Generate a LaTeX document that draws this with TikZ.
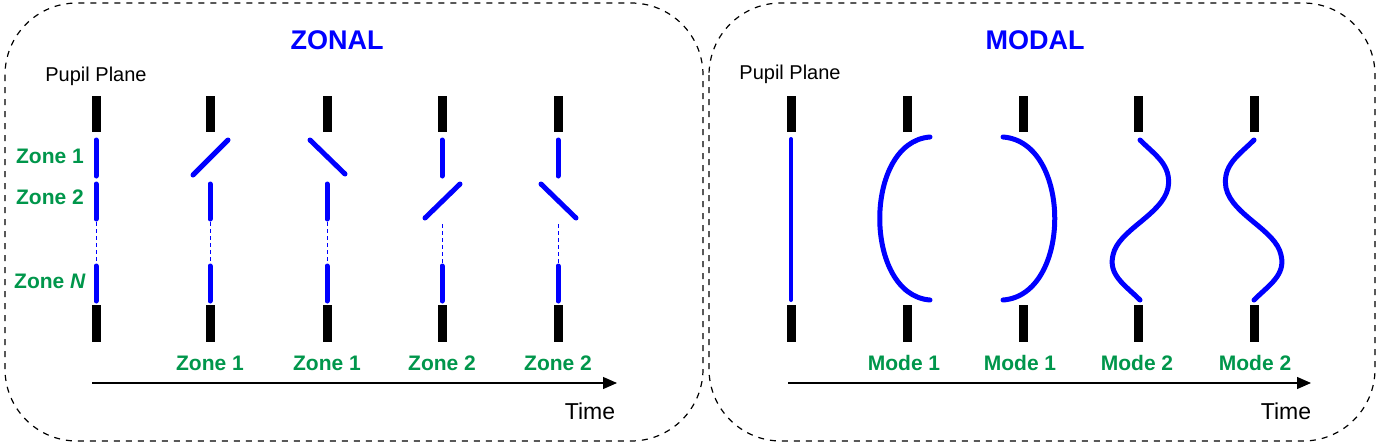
\documentclass[tikz,border=0pt]{standalone}
\usepackage{fontspec}
\setmainfont{Liberation Sans}
\usetikzlibrary{arrows.meta}
\definecolor{zg}{RGB}{0,150,75}
\begin{document}
\begin{tikzpicture}[x=0.5pt,y=-0.5pt,
  panel/.style={draw,dashed,line width=0.6pt,rounded corners=36pt},
  bar/.style={line width=4.5pt},
  mir/.style={blue,line width=2.5pt,line cap=round},
  thin/.style={blue,dashed,line width=0.4pt,dash pattern=on 2pt off 1.5pt},
  zl/.style={text=zg,font=\bfseries\fontsize{10.5}{12}\selectfont},
  title/.style={text=blue,font=\bfseries\fontsize{13.5}{15}\selectfont},
  plain/.style={font=\fontsize{10}{12}\selectfont},
  timearr/.style={-{Triangle[length=7pt,width=6pt]},line width=0.6pt}]
\useasboundingbox (0,0) rectangle (1379,445);
\draw[panel] (5,3) rectangle (703,441);
\draw[panel] (709,3) rectangle (1375,441);
\node[title] (tz) at (337,40) {ZONAL};
\node[title] (tm) at (1035,40) {MODAL};
\node[plain] (pp1) at (96,76) {Pupil Plane};
\node[plain] (pp2) at (790,74) {Pupil Plane};
% left bars
\foreach \x in {96,210,327,442,558}{
  \draw[bar] (\x,96) -- (\x,132);
  \draw[bar] (\x,305) -- (\x,342);
  \draw[mir] (\x,266) -- (\x,301);
}
% col1
\draw[mir] (96,140) -- (96,176);
\draw[mir] (96,184) -- (96,219);
\draw[thin] (96,222) -- (96,263);
\node[zl] (z1) at (50,156) {Zone 1};
\node[zl] (z2) at (50,197) {Zone 2};
\node[zl] (zn) at (50,281) {Zone \textit{N}};
% col2
\draw[mir] (193,175) -- (228,140);
\draw[mir] (210,184) -- (210,219);
\draw[thin] (210,222) -- (210,263);
% col3
\draw[mir] (310,140) -- (345,174);
\draw[mir] (327,184) -- (327,219);
\draw[thin] (327,222) -- (327,263);
% col4
\draw[mir] (442,140) -- (442,176);
\draw[mir] (425,218) -- (460,184);
\draw[thin] (442,224) -- (442,263);
% col5
\draw[mir] (558,140) -- (558,176);
\draw[mir] (541,184) -- (576,218);
\draw[thin] (558,224) -- (558,263);
\foreach \x/\t in {210/Zone 1,327/Zone 1,442/Zone 2,558/Zone 2}
  \node[zl] at (\x,363) {\t};
\coordinate (a1) at (92,383); \coordinate (a2) at (617,383);
\draw[timearr] (a1) -- (a2);
\node[plain,font=\fontsize{11.5}{13}\selectfont] (t1) at (590,411) {Time};
% right
\foreach \x in {791,907,1023,1138,1254}{
  \draw[bar] (\x,96) -- (\x,132);
  \draw[bar] (\x,305) -- (\x,342);
}
\draw[mir,line width=2pt] (791,139) -- (791,300);
\draw[mir] (930,137) .. controls (863,142) and (863,295) .. (930,300);
\draw[mir] (1003,137) .. controls (1072,142) and (1072,295) .. (1003,300);
\draw[mir] (1140,140) .. controls (1155,155) and (1172,165) .. (1168,188)
  .. controls (1162,215) and (1118,230) .. (1113,255)
  .. controls (1108,275) and (1125,285) .. (1140,300);
\draw[mir] (1254,140) .. controls (1239,155) and (1222,165) .. (1226,188)
  .. controls (1232,215) and (1276,230) .. (1281,255)
  .. controls (1286,275) and (1269,285) .. (1254,300);
\foreach \x/\t in {904/Mode 1,1020/Mode 1,1137/Mode 2,1255/Mode 2}
  \node[zl] at (\x,363) {\t};
\coordinate (b1) at (788,383); \coordinate (b2) at (1311,383);
\draw[timearr] (b1) -- (b2);
\node[plain,font=\fontsize{11.5}{13}\selectfont] (t2) at (1286,411) {Time};
\end{tikzpicture}
\end{document}
